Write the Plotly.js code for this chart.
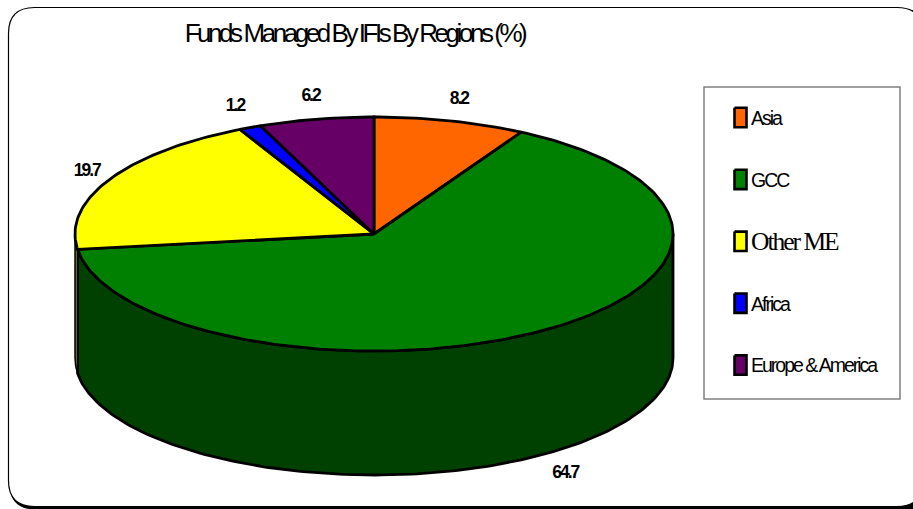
<!DOCTYPE html>
<html><head><meta charset="utf-8">
<script src="https://cdn.plot.ly/plotly-3.0.1.min.js"></script>
<style>
html,body{margin:0;padding:0;background:#fff;overflow:hidden}
#c{width:913px;height:509px}
.gtitle{letter-spacing:-3.45px}
.textpoint text{letter-spacing:-2px}
</style></head><body><div id="c"></div>
<script>
const categories = ['Asia','GCC','Other ME','Africa','Europe & America'];
const values = [8.2,64.7,19.7,1.2,6.2];
const labels = ['8.2','64.7','19.7','1.2','6.2'];
const colors = ['#FF6600','#008000','#FFFF00','#0000FF','#660066'];
const wallColors = ['#803300','#004000','#808000','#000080','#330033'];
const titleText = 'Funds Managed By IFIs By Regions (%)';

// pie projection
const cx=374, cy=234, rx=299, ry=117, depth=124;
const labelDx=[0,5,7,-1,1], labelDy=[1,0,3,0,0];
const deg=Math.PI/180;
const ex=t=>cx+rx*Math.sin(t*deg), ey=t=>cy-ry*Math.cos(t*deg);
const arc=(a,b)=>{const n=Math.max(2,Math.ceil(Math.abs(b-a)));const o=[];for(let i=0;i<=n;i++)o.push(a+(b-a)*i/n);return o;};
const total=values.reduce((s,v)=>s+v,0);
const traces=[];
let cum=0;
const spans=values.map(v=>{const a=cum/total*360;cum+=v;return [a,cum/total*360];});

// side walls: the front half of the cylinder, t in 90..270
spans.forEach(([a,b],i)=>{
  const s=Math.max(a,90), e=Math.min(b,270);
  if(e<=s) return;
  const top=arc(s,e);
  traces.push({type:'scatter',mode:'lines',fill:'toself',fillcolor:wallColors[i],
    x:[...top.map(ex),...top.slice().reverse().map(ex),ex(s)],
    y:[...top.map(ey),...top.slice().reverse().map(t=>ey(t)+depth),ey(s)],
    line:{color:'#000',width:i===1?2.8:1.5},hoverinfo:'skip'});
});
// top faces
spans.forEach(([a,b],i)=>{
  const t=arc(a,b);
  traces.push({type:'scatter',mode:'lines',fill:'toself',fillcolor:colors[i],
    x:[cx,...t.map(ex),cx],y:[cy,...t.map(ey),cy],
    line:{color:'#000',width:2.8},hoverinfo:'skip'});
});
// value labels, placed radially around the slice mid-angle
spans.forEach(([a,b],i)=>{
  const m=(a+b)/2, c=Math.cos(m*deg);
  traces.push({type:'scatter',mode:'text',
    x:[cx+333*Math.sin(m*deg)+labelDx[i]],y:[cy-140*c+(c<0?depth:0)+labelDy[i]],text:[labels[i]],
    textposition:'middle center',
    textfont:{family:'Liberation Sans',size:17.5,color:'#000',weight:700},hoverinfo:'skip'});
});
// legend entries
const legY=i=>117.5+61.9*i;
categories.forEach((n,i)=>{
  const y=legY(i);
  traces.push({type:'scatter',mode:'lines',fill:'toself',fillcolor:colors[i],
    x:[734.5,746.5,746.5,734.5,734.5],y:[y-9.7,y-9.7,y+9.7,y+9.7,y-9.7],
    line:{color:'#000',width:2.6},hoverinfo:'skip'});
  const serif=n==='Other ME';
  traces.push({type:'scatter',mode:'text',x:[751],y:[y+(serif?2:2.5)],text:[n],textposition:'middle right',
    textfont:{family:serif?'Liberation Serif':'Liberation Sans',size:serif?25.5:19.5,color:'#000'},hoverinfo:'skip'});
});

const rr=(x0,y0,x1,y1,r)=>`M${x0+r},${y0} L${x1-r},${y0} Q${x1},${y0} ${x1},${y0+r} L${x1},${y1-r} Q${x1},${y1} ${x1-r},${y1} L${x0+r},${y1} Q${x0},${y1} ${x0},${y1-r} L${x0},${y0+r} Q${x0},${y0} ${x0+r},${y0} Z`;
const layout={
  width:913,height:509,margin:{l:0,r:0,t:0,b:0},showlegend:false,hovermode:false,
  paper_bgcolor:'#fff',plot_bgcolor:'rgba(0,0,0,0)',
  title:{text:titleText,x:354.5/913,xanchor:'center',xref:'paper',y:1-33/509,yanchor:'middle',
    font:{family:'Liberation Sans',size:26,color:'#000'}},
  xaxis:{range:[0,913],visible:false,fixedrange:true},
  yaxis:{range:[509,0],visible:false,fixedrange:true},
  shapes:[
    {type:'path',path:rr(9.5,10,950,509.5,26),fillcolor:'#000',line:{color:'#000',width:0},layer:'below'},
    {type:'path',path:rr(8.5,7.5,923,506.5,26),fillcolor:'#fff',line:{color:'#000',width:1.2},layer:'below'},
    {type:'rect',x0:704,x1:900,y0:87,y1:399,fillcolor:'#fff',line:{color:'#808080',width:1.5},layer:'below'}
  ]
};
Plotly.newPlot('c',traces,layout,{displayModeBar:false,staticPlot:true});
</script></body></html>
